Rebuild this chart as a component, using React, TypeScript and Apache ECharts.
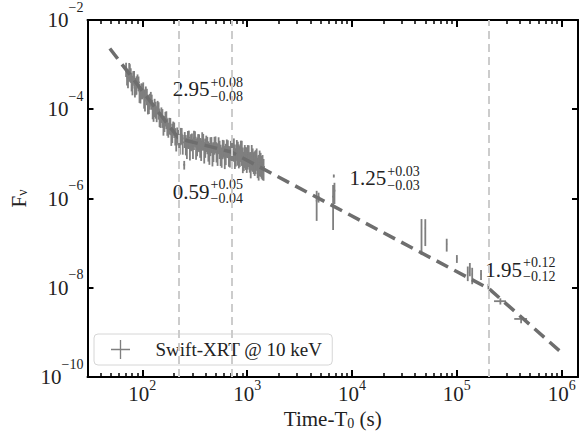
import React, { useEffect, useRef } from "react";
import * as echarts from "echarts";

const FONT = "Liberation Serif";

// Swift-XRT light curve at 10 keV (time since T0 in s, flux density) - first sample set
const xrtTime = [
  70, 73, 75, 76, 79, 82, 85, 88, 92, 96, 100, 104, 108, 113, 118, 123, 128, 134, 140, 146,
  152, 159, 166, 173, 181, 189, 197, 206, 215, 224,
  232, 243, 251, 254, 266, 278, 291, 304, 318, 333, 348, 364, 381, 398, 417, 436, 456, 477, 499, 522,
  546, 571, 598, 625, 654, 684,
  715, 747, 780, 815, 851, 889, 929, 970, 1013, 1058, 1105, 1154, 1205, 1259, 1315, 1373, 1434,
  4600, 4800, 6600, 6700, 6800, 46000, 50000, 80000, 100000, 127000, 133000, 140000, 170000, 200000,
  260000, 410000,
];
const xrtFlux = [
  8.11e-4, 5.07e-4, 7.5e-4, 7.41e-4, 4.56e-4, 5.38e-4, 3.05e-4, 3.8e-4, 3.98e-4, 2.32e-4, 2.7e-4,
  1.91e-4, 2.4e-4, 1.32e-4, 1.6e-4, 1.55e-4, 9.5e-5, 1.04e-4, 1.15e-4, 7.0e-5, 7.96e-5, 4.83e-5,
  6.41e-5, 4.39e-5, 4.59e-5, 2.74e-5, 3.92e-5, 2.65e-5, 2.81e-5, 1.86e-5,
  2.69e-5, 1.81e-5, 5.7e-6, 2.22e-5, 1.53e-5, 2.3e-5, 1.95e-5, 1.48e-5, 2.33e-5, 1.6e-5, 1.92e-5,
  1.36e-5, 2.0e-5, 1.51e-5, 1.69e-5, 1.16e-5, 1.71e-5, 1.24e-5, 1.74e-5, 1.12e-5, 1.37e-5, 9.4e-6,
  1.42e-5, 1.12e-5, 1.41e-5, 9.7e-6,
  1.22e-5, 1.45e-5, 9.3e-6, 1.21e-5, 1.0e-5, 1.25e-5, 7.6e-6, 9.3e-6, 1.01e-5, 7.3e-6, 1.0e-5,
  7.2e-6, 7.8e-6, 5.6e-6, 7.5e-6, 5.9e-6, 5.1e-6,
  9.0e-7, 1.08e-6, 1.1e-6, 3.2e-6, 1.5e-6, 2.0e-7, 2.15e-7, 9.5e-8, 4.5e-8, 2.2e-8, 2.7e-8, 2.0e-8,
  2.0e-8, 1.07e-8, 5.0e-9, 2.0e-9,
];
const xrtFluxRelErr = [
  0.35, 0.42, 0.45, 0.38, 0.45, 0.33, 0.4, 0.44, 0.36, 0.42, 0.38, 0.46, 0.35, 0.42, 0.39, 0.37,
  0.45, 0.41, 0.34, 0.43, 0.38, 0.47, 0.36, 0.42, 0.4, 0.45, 0.35, 0.42, 0.39, 0.44,
  0.42, 0.47, 0.22, 0.39, 0.5, 0.44, 0.41, 0.48, 0.38, 0.45, 0.43, 0.49, 0.4, 0.46, 0.42, 0.51,
  0.39, 0.47, 0.41, 0.52, 0.44, 0.48, 0.42, 0.5, 0.43, 0.49,
  0.48, 0.53, 0.44, 0.55, 0.49, 0.57, 0.46, 0.53, 0.56, 0.48, 0.58, 0.51, 0.55, 0.49, 0.58, 0.53,
  0.51,
  0.65, 0.25, 0.82, 0.08, 0.5, 0.73, 0.6, 0.32, 0.2, 0.36, 0.33, 0.4, 0.25, 0.14, 0.16, 0.2,
];
const xrtTimeRelErr = [
  0.03, 0.03, 0.02, 0.03, 0.03, 0.03, 0.03, 0.03, 0.03, 0.03, 0.03, 0.03, 0.03, 0.03, 0.03, 0.03,
  0.03, 0.03, 0.03, 0.03, 0.03, 0.03, 0.03, 0.03, 0.03, 0.03, 0.03, 0.03, 0.03, 0.03,
  0.03, 0.03, 0.02, 0.03, 0.03, 0.03, 0.03, 0.03, 0.03, 0.03, 0.03, 0.03, 0.03, 0.03, 0.03, 0.03,
  0.03, 0.03, 0.03, 0.03, 0.03, 0.03, 0.03, 0.03, 0.03, 0.03,
  0.03, 0.03, 0.03, 0.03, 0.03, 0.03, 0.03, 0.03, 0.03, 0.03, 0.03, 0.03, 0.03, 0.03, 0.03, 0.03,
  0.03,
  0.02, 0.02, 0.02, 0.01, 0.02, 0.01, 0.01, 0.01, 0.01, 0.01, 0.01, 0.01, 0.01, 0.01, 0.13, 0.14,
];

// Second (interleaved) sample set of the dense early light curve
const xrtTimeB = [
  71.5, 77.5, 80.5, 83.5, 86.5, 90, 94, 98, 102, 106, 110.5, 115.5, 120.5, 125.5, 131, 137, 143,
  149, 155.5, 162.5, 169.5, 177, 185, 193, 201.5, 210.5, 219.5,
  228, 237.5, 260, 272, 284.5, 297.5, 311, 325.5, 340.5, 356, 372.5, 389.5, 407.5, 426.5, 446,
  466.5, 488, 510.5, 534, 558.5, 584.5, 611.5, 639.5, 669, 699,
  731, 763, 797, 833, 870, 909, 949, 991, 1035, 1081, 1129, 1179, 1232, 1287, 1344, 1403,
];
const xrtFluxB = [
  5.65e-4, 6.1e-4, 3.67e-4, 5.22e-4, 3.56e-4, 4.47e-4, 2.52e-4, 2.74e-4, 2.92e-4, 1.57e-4, 2.05e-4,
  1.45e-4, 1.8e-4, 1.01e-4, 1.19e-4, 8.28e-5, 1.01e-4, 5.86e-5, 6.95e-5, 5.07e-5, 6.3e-5, 3.65e-5,
  4.51e-5, 3.24e-5, 3.66e-5, 2.02e-5, 2.59e-5,
  1.75e-5, 2.71e-5, 1.78e-5, 2.28e-5, 1.43e-5, 2.02e-5, 2.25e-5, 1.45e-5, 1.95e-5, 1.54e-5,
  2.12e-5, 1.24e-5, 1.83e-5, 1.29e-5, 1.62e-5, 1.09e-5, 1.68e-5, 1.21e-5, 1.67e-5, 1.07e-5,
  1.41e-5, 9.7e-6, 1.46e-5, 1.01e-5, 1.33e-5,
  1.39e-5, 1.04e-5, 1.37e-5, 1.05e-5, 1.32e-5, 8.8e-6, 1.03e-5, 8.7e-6, 1.03e-5, 6.9e-6, 8.6e-6,
  7.3e-6, 8.7e-6, 6.0e-6, 6.8e-6, 6.0e-6,
];
const xrtFluxRelErrB = [
  0.4, 0.36, 0.44, 0.38, 0.42, 0.35, 0.45, 0.39, 0.37, 0.43, 0.4, 0.46, 0.36, 0.41, 0.44, 0.38,
  0.42, 0.35, 0.45, 0.39, 0.43, 0.37, 0.41, 0.46, 0.38, 0.44, 0.4,
  0.45, 0.4, 0.48, 0.43, 0.5, 0.41, 0.46, 0.49, 0.42, 0.47, 0.44, 0.51, 0.4, 0.48, 0.45, 0.52,
  0.43, 0.47, 0.41, 0.5, 0.46, 0.53, 0.44, 0.49, 0.47,
  0.52, 0.56, 0.49, 0.55, 0.5, 0.58, 0.53, 0.57, 0.51, 0.59, 0.54, 0.56, 0.52, 0.58, 0.55, 0.57,
];
const xrtTimeRelErrB = [
  0.02, 0.02, 0.02, 0.02, 0.02, 0.02, 0.02, 0.02, 0.02, 0.02, 0.02, 0.02, 0.02, 0.02, 0.02, 0.02,
  0.02, 0.02, 0.02, 0.02, 0.02, 0.02, 0.02, 0.02, 0.02, 0.02, 0.02,
  0.02, 0.02, 0.02, 0.02, 0.02, 0.02, 0.02, 0.02, 0.02, 0.02, 0.02, 0.02, 0.02, 0.02, 0.02, 0.02,
  0.02, 0.02, 0.02, 0.02, 0.02, 0.02, 0.02, 0.02, 0.02,
  0.02, 0.02, 0.02, 0.02, 0.02, 0.02, 0.02, 0.02, 0.02, 0.02, 0.02, 0.02, 0.02, 0.02, 0.02, 0.02,
];

// Broken power-law model (vertices)
const modelTime = [49, 223, 707, 2.03e5, 1e6];
const modelFlux = [2.3e-3, 2.2e-5, 1.1e-5, 9.5e-9, 3.5e-10];
const breakTimes = [223, 707, 2.03e5];

// Slope annotations
const slopeValue = ["2.95", "0.59", "1.25", "1.95"];
const slopeErrUp = ["+0.08", "+0.05", "+0.03", "+0.12"];
const slopeErrDown = ["\u22120.08", "\u22120.04", "\u22120.03", "\u22120.12"];
const slopeTime = [438, 438, 2.12e4, 4.18e5];
const slopeFlux = [2.84e-4, 1.43e-6, 2.84e-6, 2.56e-8];

// Axes
const xRange = [30, 1.43e6];
const yRange = [1e-10, 1e-2];
const xMajorTicks = [1e2, 1e3, 1e4, 1e5, 1e6];
const xMinorTicks = [
  40, 50, 60, 70, 80, 90, 200, 300, 400, 500, 600, 700, 800, 900, 2000, 3000, 4000, 5000, 6000,
  7000, 8000, 9000, 2e4, 3e4, 4e4, 5e4, 6e4, 7e4, 8e4, 9e4, 2e5, 3e5, 4e5, 5e5, 6e5, 7e5, 8e5, 9e5,
];
const yMajorTicks = [1e-10, 1e-8, 1e-6, 1e-4, 1e-2];

const legendName = "Swift-XRT @ 10 keV";

function powLabel(v: number) {
  const e = Math.round(Math.log10(v));
  const s = e < 0 ? "\u2212" + -e : String(e);
  return "{b|10}{s|" + s + "}";
}

export default function App() {
  const ref = useRef<HTMLDivElement>(null);
  useEffect(() => {
    document.body.style.margin = "0";
    if (!ref.current) return;
    const chart = echarts.init(ref.current, undefined, { renderer: "svg" });

    const txt = { fontFamily: FONT, color: "#222" };
    const mkX = (pos: string, major: boolean, labels: boolean) => ({
      type: "log",
      logBase: 10,
      min: xRange[0],
      max: xRange[1],
      position: pos,
      gridIndex: 0,
      axisLine: { show: major, onZero: false, lineStyle: { color: "#000", width: 2 } },
      axisTick: {
        show: true,
        inside: true,
        length: major ? 7 : 4,
        lineStyle: { color: "#000", width: major ? 2 : 1.5 },
        customValues: major ? xMajorTicks : xMinorTicks,
      },
      minorTick: { show: false },
      splitLine: { show: false },
      axisLabel: labels
        ? {
            show: true,
            customValues: xMajorTicks,
            formatter: (v: number) => powLabel(v),
            margin: 1,
            rich: {
              b: { ...txt, fontSize: 21, lineHeight: 30 },
              s: { ...txt, fontSize: 14, padding: [0, 0, 17, 0] },
            },
          }
        : { show: false },
      name: labels ? "Time-T{sub|0} (s)" : "",
      nameLocation: "middle",
      nameGap: 28,
      nameTextStyle: {
        ...txt,
        fontSize: 21,
        rich: {
          sub: { ...txt, fontSize: 14, padding: [8, 0, 0, 0] },
        },
      },
    });

    const mkY = (pos: string, labels: boolean) => ({
      type: "log",
      logBase: 10,
      min: yRange[0],
      max: yRange[1],
      position: pos,
      gridIndex: 0,
      axisLine: { show: true, onZero: false, lineStyle: { color: "#000", width: 2 } },
      axisTick: {
        show: true,
        inside: true,
        length: 6,
        lineStyle: { color: "#000", width: 2 },
        customValues: yMajorTicks,
      },
      minorTick: { show: false },
      splitLine: { show: false },
      axisLabel: labels
        ? {
            show: true,
            customValues: yMajorTicks,
            formatter: (v: number) => powLabel(v),
            margin: 4,
            rich: {
              b: { ...txt, fontSize: 21, lineHeight: 40 },
              s: { ...txt, fontSize: 14, padding: [0, 0, 26, 0] },
            },
          }
        : { show: false },
      name: labels ? "F{sub|\u03bd}" : "",
      nameLocation: "middle",
      nameRotate: 90,
      nameGap: 58,
      nameTextStyle: {
        ...txt,
        fontSize: 21,
        rich: {
          sub: { ...txt, fontSize: 14, padding: [8, 0, 0, 0] },
        },
      },
    });

    const xrtData = xrtTime
      .map((t, i) => [t, xrtFlux[i], xrtTimeRelErr[i], xrtFluxRelErr[i]])
      .concat(xrtTimeB.map((t, i) => [t, xrtFluxB[i], xrtTimeRelErrB[i], xrtFluxRelErrB[i]]));
    const modelData = modelTime.map((t, i) => [t, modelFlux[i]]);
    const slopeData = slopeTime.map((t, i) => [t, slopeFlux[i], i]);

    const option: any = {
      animation: false,
      backgroundColor: "#fff",
      grid: { left: 84, right: 10, top: 15, bottom: 59, containLabel: false },
      legend: {
        show: true,
        left: 94,
        top: 334,
        selectedMode: false,
        orient: "horizontal",
        backgroundColor: "rgba(255,255,255,0.8)",
        borderColor: "#d6d6d6",
        borderWidth: 1,
        borderRadius: 4,
        padding: [6, 10, 6, 17],
        itemWidth: 20,
        itemHeight: 19,
        textStyle: { ...txt, fontSize: 19, padding: [0, 0, 0, 20] },
        data: [{ name: legendName, icon: "path://M9.3,0h1.4v20h-1.4z M0,9.3h20v1.4h-20z" }],
      },
      xAxis: [mkX("bottom", true, true), mkX("bottom", false, false), mkX("top", true, false), mkX("top", false, false)],
      yAxis: [mkY("left", true), mkY("right", false)],
      series: [
        {
          name: "breaks",
          type: "line",
          data: [],
          z: 1,
          silent: true,
          markLine: {
            symbol: "none",
            silent: true,
            animation: false,
            label: { show: false },
            lineStyle: { type: [8, 5], color: "#cccccc", width: 2 },
            data: breakTimes.map((t) => ({ xAxis: t })),
          },
        },
        {
          name: legendName,
          type: "custom",
          z: 2,
          silent: true,
          itemStyle: { color: "#7f7f7f" },
          encode: { x: 0, y: 1 },
          data: xrtData,
          renderItem: (params: any, api: any) => {
            const t = api.value(0);
            const f = api.value(1);
            const rt = api.value(2);
            const rf = api.value(3);
            const top = api.coord([t, f * (1 + rf)]);
            const bot = api.coord([t, f * (1 - rf)]);
            const l = api.coord([t * (1 - rt), f]);
            const r = api.coord([t * (1 + rt), f]);
            const style = { stroke: "#7f7f7f", lineWidth: 1.8 };
            return {
              type: "group",
              children: [
                { type: "line", shape: { x1: top[0], y1: top[1], x2: bot[0], y2: bot[1] }, style },
                { type: "line", shape: { x1: l[0], y1: l[1], x2: r[0], y2: r[1] }, style },
              ],
            };
          },
        },
        {
          name: "model",
          type: "line",
          z: 3,
          silent: true,
          data: modelData,
          symbol: "none",
          lineStyle: { color: "#6e6e6e", width: 3.5, type: [13, 7] },
        },
        {
          name: "slopes",
          type: "custom",
          z: 4,
          silent: true,
          encode: { x: 0, y: 1 },
          data: slopeData,
          renderItem: (params: any, api: any) => {
            const p = api.coord([api.value(0), api.value(1)]);
            const i = api.value(2);
            const base = { fontFamily: FONT, fill: "#222" };
            return {
              type: "group",
              children: [
                {
                  type: "text",
                  x: p[0],
                  y: p[1],
                  style: { ...base, text: slopeValue[i], fontSize: 21, align: "right", verticalAlign: "middle" },
                },
                {
                  type: "text",
                  x: p[0] + 1,
                  y: p[1] - 7,
                  style: { ...base, text: slopeErrUp[i], fontSize: 14, align: "left", verticalAlign: "middle" },
                },
                {
                  type: "text",
                  x: p[0] + 1,
                  y: p[1] + 7,
                  style: { ...base, text: slopeErrDown[i], fontSize: 14, align: "left", verticalAlign: "middle" },
                },
              ],
            };
          },
        },
      ],
    };
    chart.setOption(option);
    return () => chart.dispose();
  }, []);
  return <div ref={ref} style={{ width: 588, height: 436 }} />;
}
